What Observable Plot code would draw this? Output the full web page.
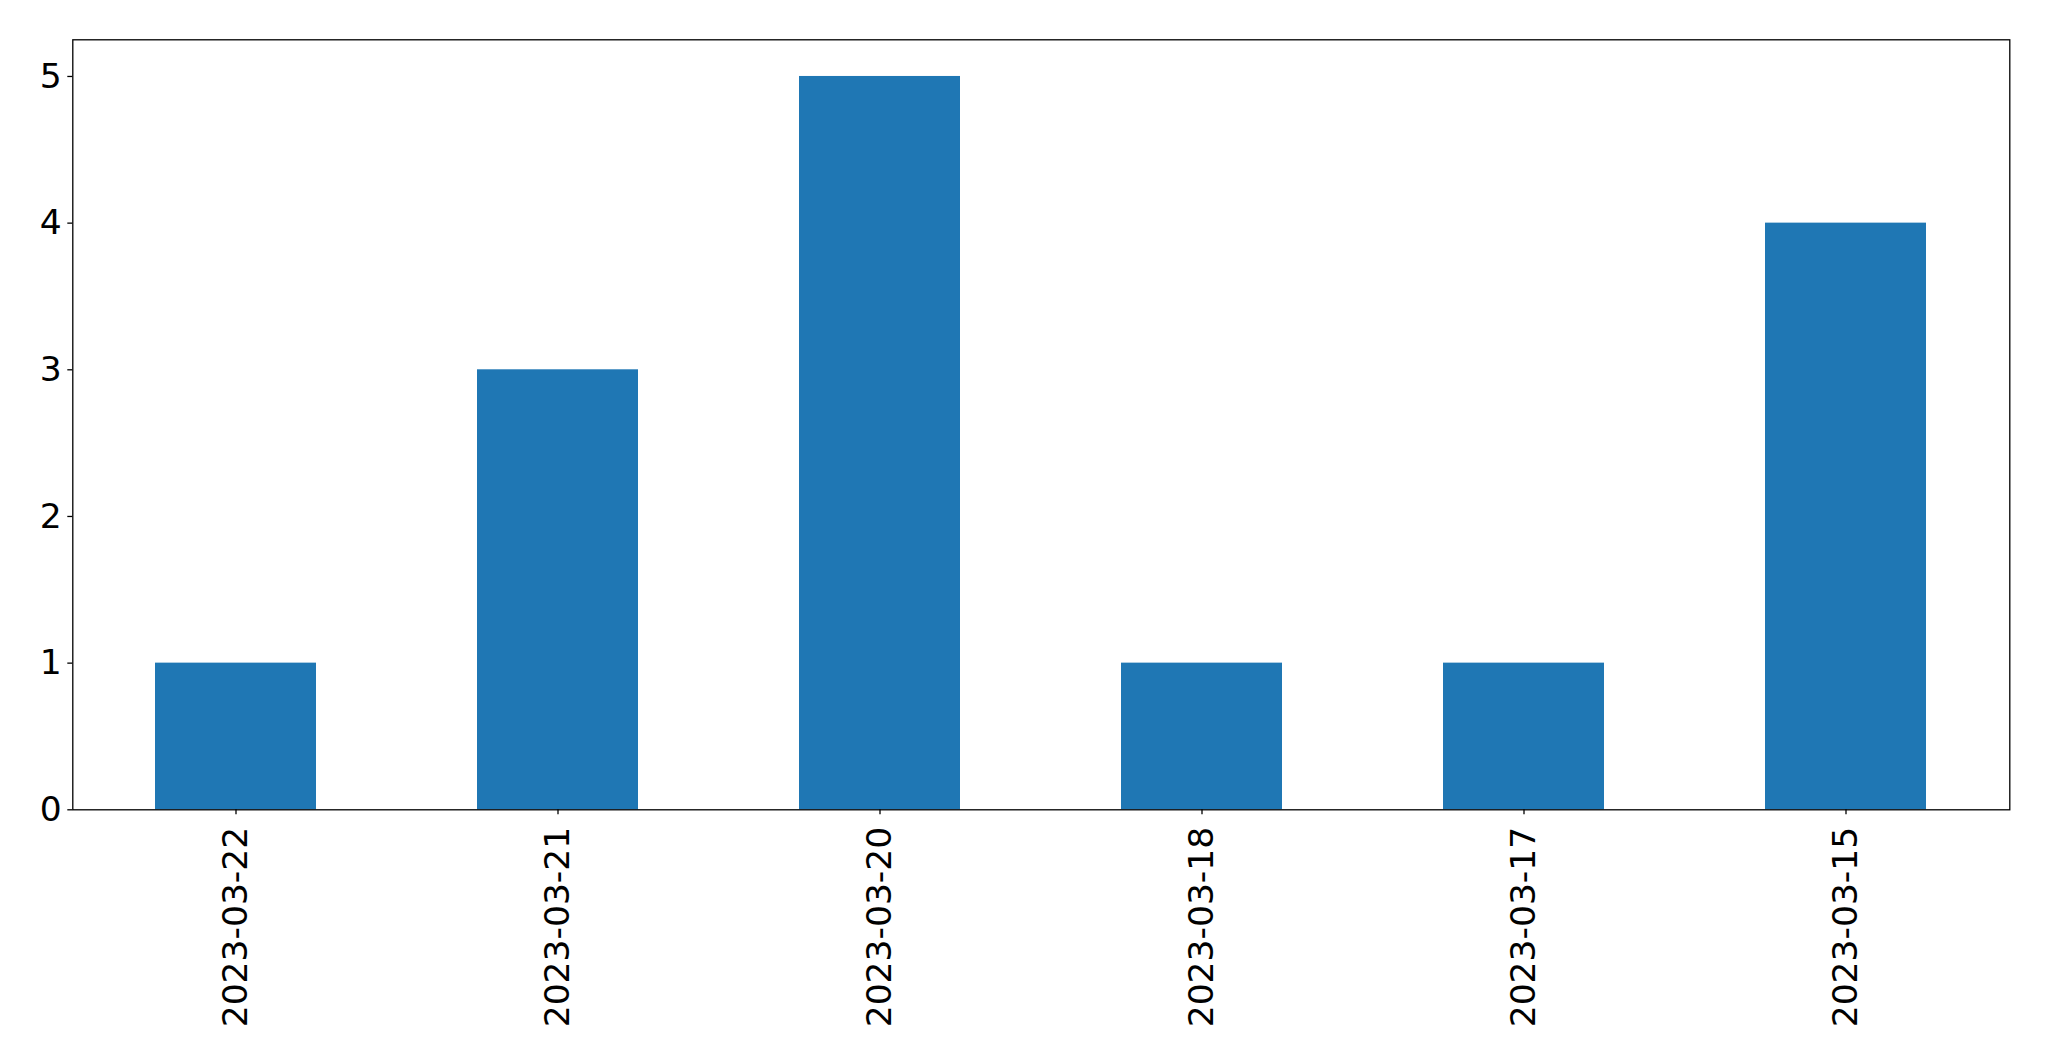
<!DOCTYPE html>
<html>
<head>
<meta charset="utf-8">
<script src="https://cdn.jsdelivr.net/npm/d3@7"></script>
<script src="https://cdn.jsdelivr.net/npm/@observablehq/plot@0.6"></script>
<style>
  html, body { margin: 0; padding: 0; background: #fff; }
  svg { display: block; }
</style>
</head>
<body>
<div id="chart"></div>
<script>
const dates = ["2023-03-22", "2023-03-21", "2023-03-20", "2023-03-18", "2023-03-17", "2023-03-15"];
const counts = [1, 3, 5, 1, 1, 4];
const yTicks = [0, 1, 2, 3, 4, 5];

const data = dates.map((d, i) => ({date: d, count: counts[i]}));

const chart = Plot.plot({
  width: 2049,
  height: 1061,
  marginLeft: 72.3,
  marginRight: 39.7,
  marginTop: 39.3,
  marginBottom: 251.7,
  style: {background: "#fff", fontFamily: "DejaVu Sans", fontSize: "34.5px", color: "#000"},
  x: {domain: dates, paddingInner: 0.5, paddingOuter: 0.25, label: null},
  y: {domain: [0, 5.25], label: null},
  marks: [
    Plot.barY(data, {x: "date", y: "count", fill: "#1f77b4"}),
    Plot.frame({stroke: "#000", strokeWidth: 1.3}),
    Plot.axisY({ticks: yTicks, tickSize: 5, tickPadding: 6, fontSize: 34.5, tickFormat: d3.format("d"), label: null, stroke: "#000", strokeWidth: 1.3}),
    Plot.axisX({tickSize: 5, tickPadding: 12, tickRotate: -90, fontSize: 34.5, label: null, stroke: "#000", strokeWidth: 1.3})
  ]
});
document.getElementById("chart").appendChild(chart);
</script>
</body>
</html>
